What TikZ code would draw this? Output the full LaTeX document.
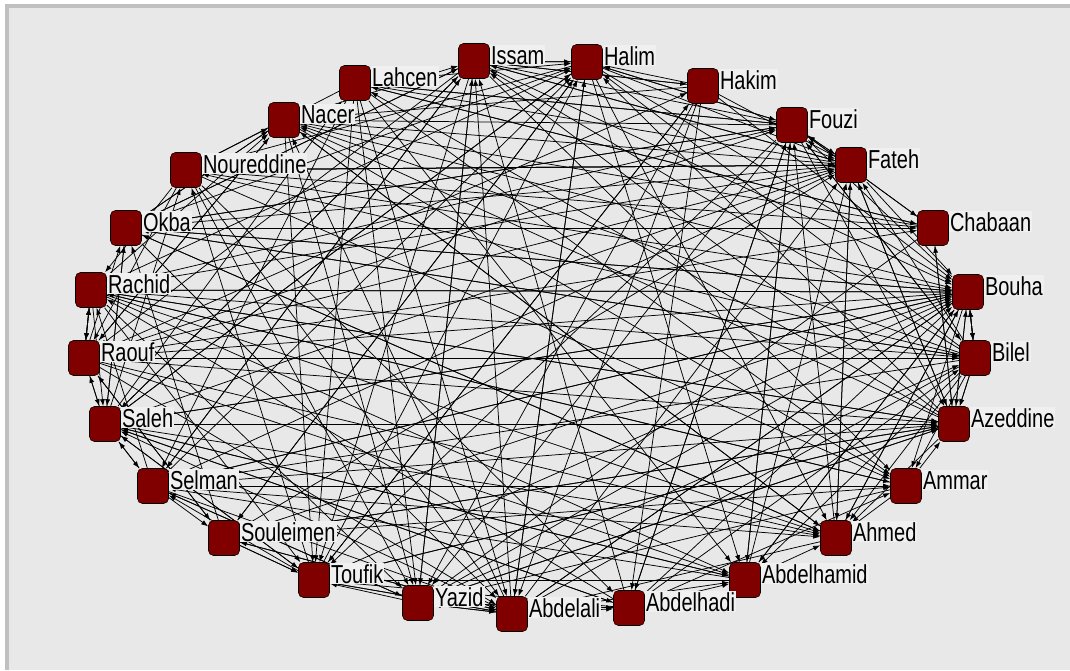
\documentclass[tikz,border=0pt]{standalone}
\usepackage{fontspec}
\setmainfont{Liberation Sans}
\usepackage{graphicx}
\usetikzlibrary{arrows.meta, positioning, calc}

\definecolor{panelgray}{RGB}{232,232,232}
\definecolor{framegray}{RGB}{192,192,192}
\definecolor{nodered}{RGB}{128,0,0}
\definecolor{labelbg}{RGB}{240,240,240}

\pgfdeclarelayer{bg}
\pgfdeclarelayer{edges}
\pgfsetlayers{bg,edges,main}

\newcommand{\tallname}[1]{\scalebox{1}[1.3]{#1}}

\begin{document}
\begin{tikzpicture}[
    x=1pt, y=-1pt,
    >=Latex,
    member/.style={draw=black, line width=0.6pt, fill=nodered, rounded corners=5pt,
        minimum width=31pt, minimum height=35pt, inner sep=0pt},
    lbl/.style={fill=labelbg, inner xsep=1pt, inner ysep=1pt, anchor=base west,
        font=\fontsize{20}{22}\selectfont},
    edge/.style={draw=black, line width=0.75pt, -{Latex[length=7pt,width=5pt]}}
]

% Panel
\begin{pgfonlayer}{bg}
\fill[white] (0,0) rectangle (1070,670);
\fill[framegray] (5,4) rectangle (1070,670);
\fill[panelgray] (9,8) rectangle (1070,670);
\end{pgfonlayer}

% Members
\foreach \nm/\px/\py/\txt in {
    issam/474/61/Issam, halim/587/62/Halim, hakim/703/86/Hakim,
    fouzi/792/125/Fouzi, fateh/851/165/Fateh, chabaan/933/228/Chabaan,
    bouha/968/292/Bouha, bilel/975/358/Bilel, azeddine/954/424/Azeddine,
    ammar/906/486/Ammar, ahmed/836/538/Ahmed, abdelhamid/745/580/Abdelhamid,
    abdelhadi/629/608/Abdelhadi, abdelali/512/614/Abdelali, yazid/418/603/Yazid,
    toufik/314/580/Toufik, souleimen/224/538/Souleimen, selman/153/486/Selman,
    saleh/105/424/Saleh, raouf/84/358/Raouf, rachid/91/290/Rachid,
    okba/126/228/Okba, noureddine/186/170/Noureddine, nacer/284/120/Nacer,
    lahcen/355/83/Lahcen}{
  \node[member] (\nm) at (\px,\py) {};
  \node[lbl] (\nm-txt) at ([yshift=-3pt]\nm.east) {\tallname{\txt}};
}

% Links
\pgfmathsetseed{4711}
\begin{pgfonlayer}{edges}
\foreach \a [count=\i] in {issam,halim,hakim,fouzi,fateh,chabaan,bouha,bilel,
    azeddine,ammar,ahmed,abdelhamid,abdelhadi,abdelali,yazid,toufik,souleimen,
    selman,saleh,raouf,rachid,okba,noureddine,nacer,lahcen}{
  \foreach \b/\w [count=\j] in {issam/0.65,halim/0.48,hakim/0.18,fouzi/0.24,
      fateh/0.65,chabaan/0.15,bouha/0.65,bilel/0.18,azeddine/0.65,ammar/0.55,
      ahmed/0.55,abdelhamid/0.55,abdelhadi/0.5,abdelali/0.55,yazid/0.5,
      toufik/0.55,souleimen/0.42,selman/0.36,saleh/0.42,raouf/0.18,rachid/0.3,
      okba/0.42,noureddine/0.3,nacer/0.55,lahcen/0.24}{
    \ifnum\i=\j\else
      \pgfmathtruncatemacro\keep{rnd<\w}
      \ifnum\keep=1 \draw[edge] (\a) -- (\b);\fi
    \fi
  }
}
% straight runs across the ring
\draw[edge] (raouf) -- (bilel);
\draw[edge] (rachid) -- (bouha);
\draw[edge] (saleh) -- (azeddine);
\draw[edge] (selman) -- (ammar);
\draw[edge] (noureddine) -- (fateh);
\draw[edge] (okba) -- (chabaan);
% neighbours on the ring
\draw[edge] (issam) -- (halim);
\draw[edge] (bouha) -- (bilel);
\draw[edge] (bilel) -- (bouha);
\draw[edge] (bilel) -- (azeddine);
\draw[edge] (rachid) -- (raouf);
\draw[edge] (raouf) -- (rachid);
\draw[edge] (raouf) -- (saleh);
\draw[edge] (saleh) -- (raouf);
\draw[edge] (hakim) -- (halim);
\draw[edge] (fouzi) -- (fateh);
\draw[edge] (souleimen) -- (toufik);
\draw[edge] (selman) -- (souleimen);
\end{pgfonlayer}

\end{tikzpicture}
\end{document}
